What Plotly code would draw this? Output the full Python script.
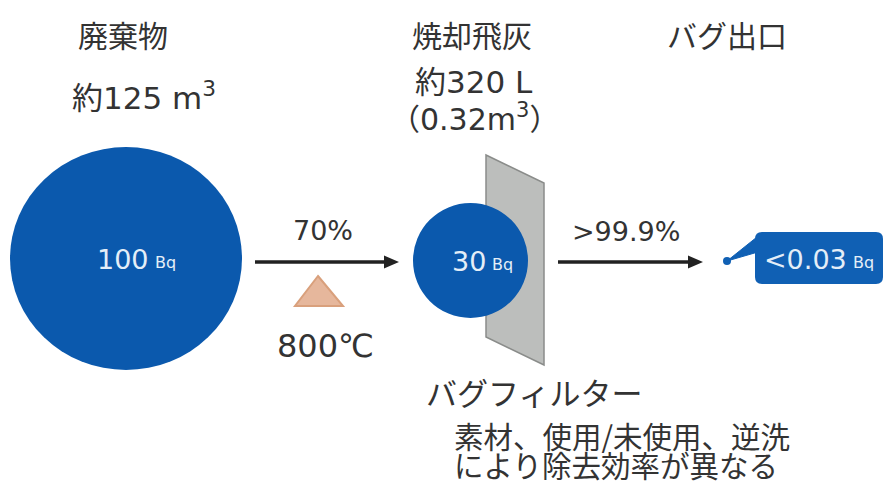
import plotly.graph_objects as go

# ---- data ----
stages = ["廃棄物", "焼却飛灰", "バグ出口"]
volume_labels = ["約125 m<sup>3</sup>", "約320 L", "（0.32m<sup>3</sup>）"]
activity_labels = ["100", "30", "<0.03"]
activity_unit = "Bq"
transfer_labels = ["70%", ">99.9%"]
temperature_label = "800℃"
filter_title = "バグフィルター"
filter_note = ["素材、使用/未使用、逆洗", "により除去効率が異なる"]

W, H = 886, 486
FONT = "DejaVu Sans, Noto Sans CJK JP"
CJK = "Noto Sans CJK JP"
TXT = "#333333"
BLUE = "#0b59ad"
BOX_BLUE = "#1060b4"
LIGHT = "#e4eef8"

fig = go.Figure()
fig.add_trace(go.Scatter(x=[0, W], y=[0, H], mode="markers",
                         marker=dict(opacity=0), hoverinfo="skip", showlegend=False))

shapes = []
# filter panel (parallelogram)
shapes.append(dict(type="path", path="M486,155 L544,183 L544,365 L486,337 Z",
                   fillcolor="#bcbebc", line=dict(color="#8a8c8a", width=1.5),
                   xref="x", yref="y", layer="above"))
# big circle
shapes.append(dict(type="circle", x0=10, x1=242, y0=147, y1=370,
                   fillcolor=BLUE, line=dict(width=0), xref="x", yref="y", layer="above"))
# small circle
shapes.append(dict(type="circle", x0=413, x1=528, y0=203, y1=318,
                   fillcolor=BLUE, line=dict(width=0), xref="x", yref="y", layer="above"))
# arrows
for x0, x1, y in [(255, 386, 262), (558, 690, 262)]:
    shapes.append(dict(type="line", x0=x0, x1=x1, y0=y, y1=y,
                       line=dict(color="#222222", width=3.5), xref="x", yref="y", layer="above"))
    shapes.append(dict(type="path",
                       path=f"M{x1-2},{y-6.5} L{x1+13},{y} L{x1-2},{y+6.5} Z",
                       fillcolor="#222222", line=dict(width=0), xref="x", yref="y", layer="above"))
# heat triangle
shapes.append(dict(type="path", path="M318,276 L343,306 L295,306 Z",
                   fillcolor="#e6b79c", line=dict(color="#d9a07c", width=2),
                   xref="x", yref="y", layer="above"))
# callout pointer + dot
shapes.append(dict(type="path", path="M727,261 L762,233 L758,252 Z",
                   fillcolor=BOX_BLUE, line=dict(color=BOX_BLUE, width=1),
                   xref="x", yref="y", layer="above"))
shapes.append(dict(type="circle", x0=723, x1=731, y0=257, y1=265,
                   fillcolor=BOX_BLUE, line=dict(width=0), xref="x", yref="y", layer="above"))
# callout rounded box
x0, x1, y0, y1, r = 755, 883, 232, 284, 7
shapes.append(dict(type="path",
                   path=(f"M{x0+r},{y0} L{x1-r},{y0} Q{x1},{y0} {x1},{y0+r} "
                         f"L{x1},{y1-r} Q{x1},{y1} {x1-r},{y1} L{x0+r},{y1} "
                         f"Q{x0},{y1} {x0},{y1-r} L{x0},{y0+r} Q{x0},{y0} {x0+r},{y0} Z"),
                   fillcolor=BOX_BLUE, line=dict(width=0), xref="x", yref="y", layer="above"))

ann = []
def txt(x, y, s, size=26, color=TXT, xanchor="center", family=FONT):
    ann.append(dict(x=x, y=y, text=s, showarrow=False, xref="x", yref="y",
                    xanchor=xanchor, yanchor="middle",
                    font=dict(family=family, size=size, color=color)))

# stage titles
for sx, s in zip([123, 472, 727], stages):
    txt(sx, 34, s, size=30, family=CJK)
txt(144, 96, volume_labels[0], size=31)
txt(474, 82, volume_labels[1], size=31)
txt(474, 117, volume_labels[2], size=30)

# activity values (number + small unit)
for (nx, ny), val in zip([(151, 259), (488, 261), (849, 259)], activity_labels):
    txt(nx, ny, val.replace("<", "&lt;"), size=27, color=LIGHT, xanchor="right")
    txt(nx + 2, ny + 3, activity_unit, size=16, color=LIGHT, xanchor="left")

txt(323, 230, transfer_labels[0], size=27)
txt(626, 231, transfer_labels[1].replace(">", "&gt;"), size=27)
txt(325, 346, temperature_label, size=32)

txt(424, 391, filter_title, size=31, xanchor="left", family=CJK)
txt(452, 435, filter_note[0], size=29.5, xanchor="left", family=CJK)
txt(452, 464, filter_note[1], size=29.5, xanchor="left", family=CJK)

fig.update_layout(
    width=W, height=H, margin=dict(l=0, r=0, t=0, b=0),
    paper_bgcolor="white", plot_bgcolor="white",
    xaxis=dict(range=[0, W], visible=False, fixedrange=True),
    yaxis=dict(range=[H, 0], visible=False, fixedrange=True),
    shapes=shapes, annotations=ann, showlegend=False,
)
fig.write_html("out.html", config={"displayModeBar": False},
               post_script="document.body.style.margin='0';document.body.style.overflow='hidden';")
